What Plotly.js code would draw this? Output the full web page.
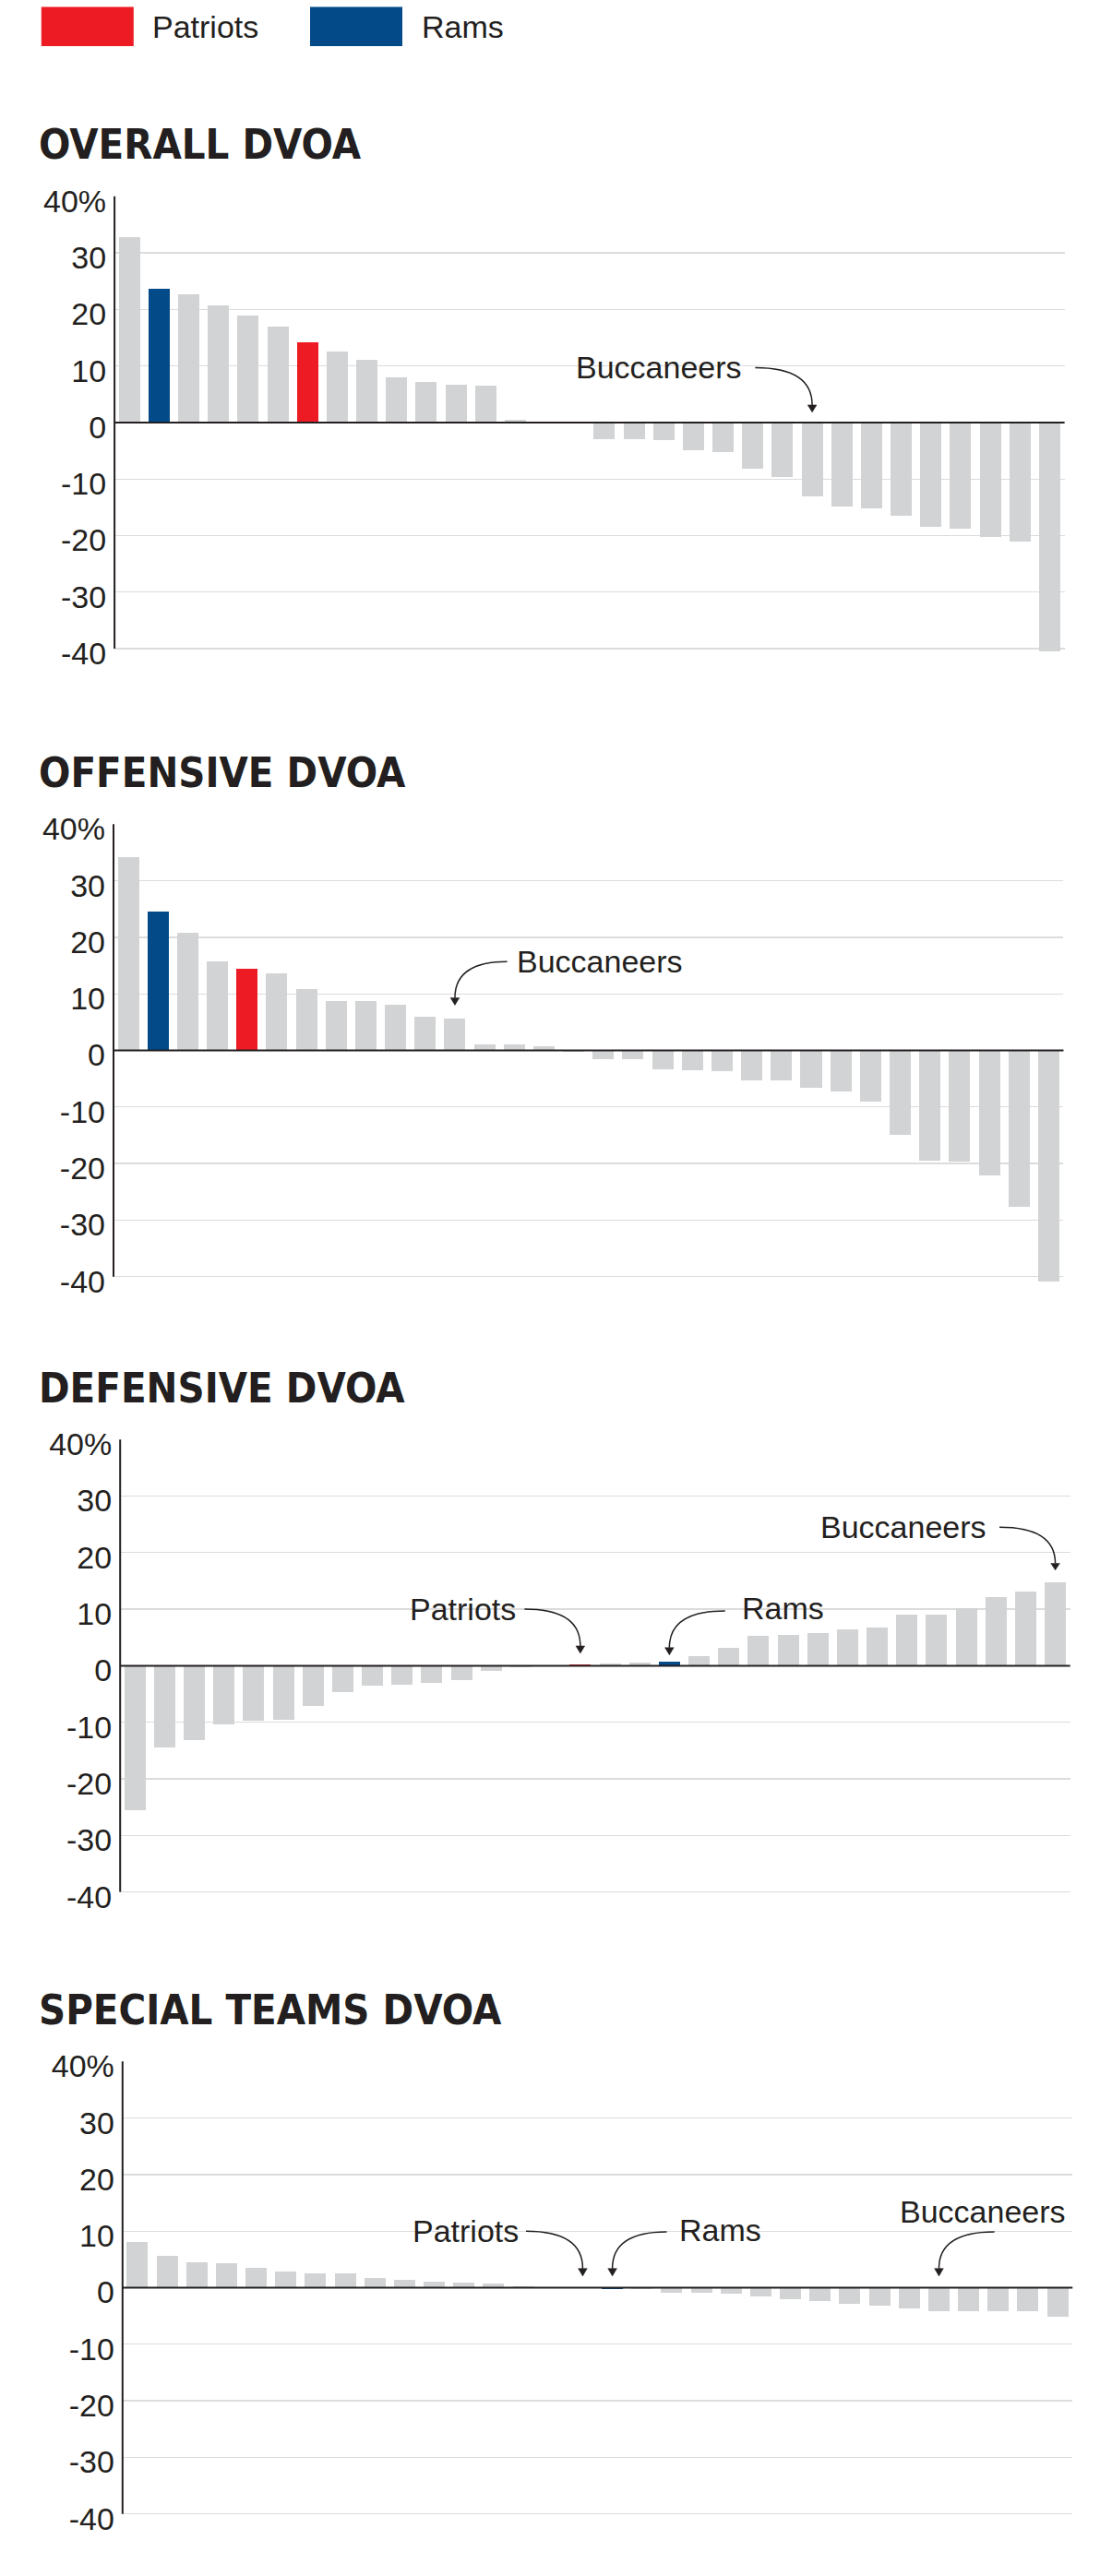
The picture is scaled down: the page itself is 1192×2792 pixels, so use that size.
<!DOCTYPE html>
<html>
<head>
<meta charset="utf-8">
<script src="https://cdn.plot.ly/plotly-3.0.1.min.js"></script>
<style>
  html, body { margin: 0; padding: 0; background: #ffffff; }
  #chart { width: 1192px; height: 2792px; }
</style>
</head>
<body>
<div id="chart"></div>
<script>
// ---------------- DATA ----------------
const ranks = [1, 2, 3, 4, 5, 6, 7, 8, 9, 10, 11, 12, 13, 14, 15, 16,
               17, 18, 19, 20, 21, 22, 23, 24, 25, 26, 27, 28, 29, 30, 31, 32];

const overallDVOA = [32.8, 23.6, 22.6, 20.7, 18.9, 16.9, 14.1, 12.5, 11.1, 8.0, 7.1, 6.6, 6.5, 0.5, 0.1, -0.2,
                     -3.0, -3.0, -3.1, -4.9, -5.3, -8.1, -9.7, -13.1, -14.8, -15.2, -16.5, -18.4, -18.7, -20.3, -21.1, -40.4];

const offensiveDVOA = [34.2, 24.5, 20.8, 15.8, 14.4, 13.7, 10.9, 8.8, 8.7, 8.1, 5.9, 5.7, 1.1, 1.0, 0.7, -0.3,
                       -1.5, -1.5, -3.4, -3.5, -3.7, -5.3, -5.3, -6.6, -7.2, -9.0, -15.0, -19.5, -19.7, -22.1, -27.7, -40.8];

const defensiveDVOA = [-25.5, -14.5, -13.1, -10.3, -9.7, -9.5, -7.1, -4.7, -3.5, -3.4, -3.1, -2.5, -0.9, -0.2, -0.1, 0.3,
                       0.4, 0.5, 0.7, 1.7, 3.2, 5.3, 5.5, 5.8, 6.4, 6.8, 9.0, 9.0, 10.1, 12.2, 13.1, 14.7];

const specialTeamsDVOA = [8.1, 5.6, 4.5, 4.4, 3.5, 2.9, 2.6, 2.5, 1.7, 1.4, 1.0, 0.9, 0.8, 0.3, 0.1, 0.0,
                          -0.2, -0.3, -0.9, -0.9, -1.1, -1.6, -2.1, -2.3, -2.9, -3.2, -3.6, -4.2, -4.2, -4.2, -4.2, -5.1];

// rank (bar position) of the highlighted teams in each chart
const patriotsRank   = [7, 5, 16, 16];
const ramsRank       = [2, 2, 19, 17];
const buccaneersRank = [24, 12, 32, 28];

const chartTitles = ['OVERALL DVOA', 'OFFENSIVE DVOA', 'DEFENSIVE DVOA', 'SPECIAL TEAMS DVOA'];
const yTickVals = [-40, -30, -20, -10, 0, 10, 20, 30, 40];
const yTickText = ['-40', '-30', '-20', '-10', '0', '10', '20', '30', '40%'];
const legendTeams = ['Patriots', 'Rams'];

// ---------------- STYLE / GEOMETRY ----------------
const W = 1192, H = 2792;
const RED = '#ED1C24', BLUE = '#034A89', GRAY = '#D1D3D4', INK = '#231F20', GRID = '#DCDCDC';
const SANS = "'Liberation Sans', Arial, Helvetica, sans-serif";
const NARROW = "'DejaVu Sans Condensed', 'DejaVu Sans', sans-serif";
const YMIN = -41.3, YMAX = 40;
const PX_PER_UNIT = 6.13;
const SLOT_PX = 32.17;
const chartTopPx = [212.7, 893.3, 1560.2, 2234.3];
const chartLeftPx = [124.1, 123.0, 130.2, 132.8];
const plotHeightPx = (YMAX - YMIN) * PX_PER_UNIT;
const plotWidthPx = ranks.length * SLOT_PX;
const frac = v => (v - YMIN) / (YMAX - YMIN);

const series = [overallDVOA, offensiveDVOA, defensiveDVOA, specialTeamsDVOA];

// callouts: text placement and curved arrow, in data units of each chart
const callouts = [
  {chart: 0, team: 'Buccaneers', tx: 21.70, ty: 9.7,  anchor: 'right', sx: 22.08, sy: 9.7,  baseY: 3.1,  tipY: 1.8},
  {chart: 1, team: 'Buccaneers', tx: 14.02, ty: 15.8, anchor: 'left',  sx: 13.76, sy: 15.7, baseY: 9.3,  tipY: 8.0},
  {chart: 2, team: 'Patriots',   tx: 13.88, ty: 10.05, anchor: 'right', sx: 14.12, sy: 10.0, baseY: 3.5, tipY: 2.2},
  {chart: 2, team: 'Rams',       tx: 21.39, ty: 10.2, anchor: 'left',  sx: 20.88, sy: 9.7,  baseY: 3.2,  tipY: 1.9},
  {chart: 2, team: 'Buccaneers', tx: 29.73, ty: 24.6, anchor: 'right', sx: 30.12, sy: 24.5, baseY: 18.1, tipY: 16.9},
  {chart: 3, team: 'Patriots',   tx: 13.89, ty: 10.1, anchor: 'right', sx: 14.09, sy: 10.0, baseY: 3.4,  tipY: 2.05},
  {chart: 3, team: 'Rams',       tx: 19.19, ty: 10.2, anchor: 'left',  sx: 18.83, sy: 9.85, baseY: 3.4,  tipY: 2.05},
  {chart: 3, team: 'Buccaneers', tx: 32.35, ty: 13.4, anchor: 'right', sx: 29.87, sy: 9.85, baseY: 3.4,  tipY: 2.05}
];
const teamRank = {Patriots: patriotsRank, Rams: ramsRank, Buccaneers: buccaneersRank};

// ---------------- BUILD ----------------
const data = [];
const layout = {
  width: W, height: H,
  margin: {l: 0, r: 0, t: 0, b: 0},
  paper_bgcolor: '#ffffff', plot_bgcolor: 'rgba(0,0,0,0)',
  showlegend: false, hovermode: false,
  bargap: 0,
  shapes: [], annotations: []
};

series.forEach((vals, i) => {
  const n = i + 1;
  const xa = 'x' + (n === 1 ? '' : n), ya = 'y' + (n === 1 ? '' : n);
  const xKey = 'xaxis' + (n === 1 ? '' : n), yKey = 'yaxis' + (n === 1 ? '' : n);
  const colors = ranks.map(r => r === patriotsRank[i] ? RED : (r === ramsRank[i] ? BLUE : GRAY));
  data.push({
    type: 'bar', x: ranks, y: vals, xaxis: xa, yaxis: ya,
    width: 0.715,
    marker: {color: colors, line: {width: 0}},
    hoverinfo: 'skip'
  });
  const top = chartTopPx[i], left = chartLeftPx[i];
  layout[xKey] = {
    domain: [left / W, (left + plotWidthPx) / W],
    range: [0.5, ranks.length + 0.5],
    visible: false, fixedrange: true, anchor: ya
  };
  layout[yKey] = {
    domain: [1 - (top + plotHeightPx) / H, 1 - top / H],
    range: [YMIN, YMAX],
    tickvals: yTickVals, ticktext: yTickText,
    showgrid: true, gridcolor: GRID, gridwidth: 1.3,
    zeroline: false, showline: false, ticks: '',
    tickfont: {family: SANS, size: 34, color: INK},
    ticklabelstandoff: 8, ticklabelshift: 5,
    fixedrange: true, anchor: xa
  };
  // y axis line (from -40 to 40)
  layout.shapes.push({
    type: 'line', xref: xa + ' domain', yref: ya + ' domain',
    x0: 0, x1: 0, y0: frac(-40), y1: frac(40),
    line: {color: INK, width: 2}, layer: 'above'
  });
  // zero line
  layout.shapes.push({
    type: 'line', xref: xa + ' domain', yref: ya + ' domain',
    x0: 0, x1: 1, y0: frac(0), y1: frac(0),
    line: {color: INK, width: 2}, layer: 'above'
  });
  // chart title
  layout.annotations.push({
    xref: 'paper', yref: 'paper', x: 40 / W, y: 1 - (top - 56) / H,
    xanchor: 'left', yanchor: 'middle', showarrow: false,
    text: chartTitles[i],
    font: {family: NARROW, size: 45, color: INK, weight: 'bold'}
  });
});

// callouts
callouts.forEach(c => {
  const n = c.chart + 1;
  const xa = 'x' + (n === 1 ? '' : n), ya = 'y' + (n === 1 ? '' : n);
  const ex = teamRank[c.team][c.chart];
  layout.annotations.push({
    xref: xa, yref: ya, x: c.tx, y: c.ty, xanchor: c.anchor, yanchor: 'middle',
    showarrow: false, text: c.team,
    font: {family: SANS, size: 34, color: INK}
  });
  layout.shapes.push({
    type: 'path', xref: xa, yref: ya,
    path: `M ${c.sx},${c.sy} Q ${ex},${c.sy} ${ex},${c.baseY}`,
    line: {color: INK, width: 1.5}, layer: 'above'
  });
  const hw = 0.15;
  layout.shapes.push({
    type: 'path', xref: xa, yref: ya,
    path: `M ${ex - hw},${c.baseY} L ${ex + hw},${c.baseY} L ${ex},${c.tipY} Z`,
    fillcolor: INK, line: {color: INK, width: 0.5}, layer: 'above'
  });
});

// legend (top)
const legendColors = [RED, BLUE];
const legendBoxX = [44.8, 336];
legendTeams.forEach((t, k) => {
  const x0 = legendBoxX[k];
  layout.shapes.push({
    type: 'rect', xref: 'paper', yref: 'paper',
    x0: x0 / W, x1: (x0 + 100) / W, y0: 1 - 50 / H, y1: 1 - 7.5 / H,
    fillcolor: legendColors[k], line: {width: 0}
  });
  layout.annotations.push({
    xref: 'paper', yref: 'paper', x: (x0 + 118.5) / W, y: 1 - 28.5 / H,
    xanchor: 'left', yanchor: 'middle', showarrow: false, text: t,
    font: {family: SANS, size: 34, color: INK}
  });
});

Plotly.newPlot('chart', data, layout, {staticPlot: true, displayModeBar: false});
</script>
</body>
</html>
